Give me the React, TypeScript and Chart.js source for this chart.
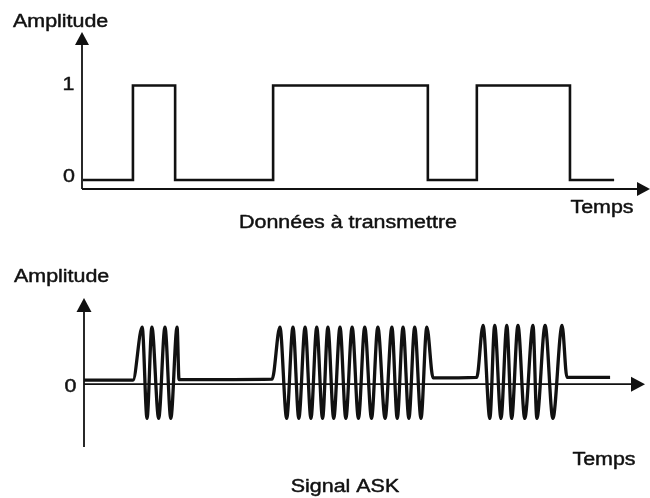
import React, { useEffect, useRef } from "react";
import { Chart, registerables } from "chart.js";

Chart.register(...registerables);

// ---- Data: top panel (digital data to transmit), time in bit periods ----
const bitEdgeTimes = [0.02, 1.05, 1.92, 3.94, 7.13, 8.14, 10.06, 10.97];
const bitLevels = [0, 1, 0, 1, 0, 1, 0, 0];
const topTickLabels = ["1", "0"];

// ---- Data: bottom panel (ASK signal), extrema ----
const askTimes = [
  0.0, 1.01, 1.2, 1.3, 1.4, 1.54, 1.67, 1.79, 1.92, 1.96,
  3.88, 4.04, 4.18, 4.31, 4.43, 4.56, 4.68, 4.8, 4.92, 5.03, 5.15, 5.28, 5.4,
  5.53, 5.66, 5.79, 5.93, 6.06, 6.21, 6.35, 6.46, 6.58, 6.7, 6.82, 6.95, 7.07, 7.2,
  8.1, 8.23, 8.37, 8.47, 8.6, 8.72, 8.82, 8.95, 9.09, 9.26, 9.34, 9.51, 9.67, 9.86, 9.96,
  10.85,
];
const askAmplitudes = [
  0.07, 0.07, 1, -0.6, 1, -0.6, 1, -0.6, 1, 0.08,
  0.09, 1, -0.6, 1, -0.6, 1, -0.6, 1, -0.6, 1, -0.6, 1, -0.6,
  1, -0.6, 1, -0.6, 1, -0.6, 1, -0.6, 1, -0.6, 1, -0.6, 1, 0.11,
  0.12, 1.03, -0.6, 1.03, -0.6, 1.03, -0.6, 1.03, -0.6, 1.03, -0.6, 1.03, -0.6, 1.03, 0.12,
  0.12,
];
const bottomTickLabels = ["0"];

const INK = "#111111";
const FONT = "18px 'Liberation Sans', Arial, Helvetica, sans-serif";
const STRETCH = 1.19;

type Txt = { text: string; x: number; y: number; align: CanvasTextAlign };

const decorPlugin = {
  id: "decor",
  beforeDatasetsDraw(chart: any, _args: any, opts: any) {
    const { ctx, chartArea } = chart;
    const ys = chart.scales.y;
    ctx.save();
    ctx.strokeStyle = INK;
    ctx.fillStyle = INK;
    ctx.lineWidth = opts.axisWidth;
    const x0 = chartArea.left;
    const xAxisY = ys.getPixelForValue(opts.xAxisAt);
    const yBottom = ys.getPixelForValue(opts.yAxisFrom);
    const yTop = chartArea.top;
    const xRight = chartArea.right;
    const al = opts.arrowLen;
    const hw = opts.arrowHalf;
    // y axis
    ctx.beginPath();
    ctx.moveTo(x0, yBottom);
    ctx.lineTo(x0, yTop + al - 1);
    ctx.stroke();
    ctx.beginPath();
    ctx.moveTo(x0, yTop);
    ctx.lineTo(x0 - hw, yTop + al);
    ctx.lineTo(x0 + hw, yTop + al);
    ctx.closePath();
    ctx.fill();
    // x axis
    ctx.beginPath();
    ctx.moveTo(x0, xAxisY);
    ctx.lineTo(xRight - al + 1, xAxisY);
    ctx.stroke();
    ctx.beginPath();
    ctx.moveTo(xRight, xAxisY);
    ctx.lineTo(xRight - al, xAxisY - hw);
    ctx.lineTo(xRight - al, xAxisY + hw);
    ctx.closePath();
    ctx.fill();
    // texts
    ctx.font = FONT;
    ctx.textBaseline = "alphabetic";
    ctx.lineWidth = 0.45;
    ctx.lineJoin = "round";
    (opts.texts as Txt[]).forEach((t) => {
      ctx.save();
      ctx.translate(t.x, t.y);
      ctx.scale(STRETCH, 1);
      ctx.textAlign = t.align;
      ctx.fillText(t.text, 0, 0);
      ctx.strokeText(t.text, 0, 0);
      ctx.restore();
    });
    ctx.restore();
  },
};

function makeTopChart(canvas: HTMLCanvasElement) {
  const data = bitEdgeTimes.map((t, i) => ({ x: t, y: bitLevels[i] }));
  return new Chart(canvas, {
    type: "line",
    data: {
      datasets: [
        {
          data,
          stepped: "before",
          borderColor: INK,
          borderWidth: 2.6,
          pointRadius: 0,
          fill: false,
        } as any,
      ],
    },
    options: {
      responsive: false,
      animation: false,
      layout: { padding: { left: 82, right: 0, top: 32, bottom: 61 } },
      scales: {
        x: { type: "linear", min: 0, max: 11.71, display: false },
        y: { type: "linear", min: -0.095, max: 1.566, display: false },
      },
      plugins: {
        legend: { display: false },
        tooltip: { enabled: false },
        decor: {
          axisWidth: 1.8,
          xAxisAt: -0.095,
          yAxisFrom: -0.095,
          arrowLen: 13,
          arrowHalf: 7,
          texts: [
            { text: "Amplitude", x: 13, y: 27, align: "left" },
            { text: topTickLabels[0], x: 68.5, y: 90, align: "center" },
            { text: topTickLabels[1], x: 69, y: 182, align: "center" },
            { text: "Données à transmettre", x: 348, y: 228, align: "center" },
            { text: "Temps", x: 602, y: 213, align: "center" },
          ],
        },
      } as any,
    },
    plugins: [decorPlugin as any],
  });
}

function makeBottomChart(canvas: HTMLCanvasElement) {
  const data = askTimes.map((t, i) => ({ x: t, y: askAmplitudes[i] }));
  return new Chart(canvas, {
    type: "line",
    data: {
      datasets: [
        {
          data,
          cubicInterpolationMode: "monotone",
          borderColor: INK,
          borderWidth: 3.3,
          pointRadius: 0,
          fill: false,
        } as any,
      ],
    },
    options: {
      responsive: false,
      animation: false,
      layout: { padding: { left: 84, right: 5, top: 48, bottom: 51 } },
      scales: {
        x: { type: "linear", min: 0, max: 11.57, display: false },
        y: { type: "linear", min: -1.1, max: 1.51, display: false },
      },
      plugins: {
        legend: { display: false },
        tooltip: { enabled: false },
        decor: {
          axisWidth: 1.8,
          xAxisAt: 0,
          yAxisFrom: -1.1,
          arrowLen: 14,
          arrowHalf: 7.5,
          texts: [
            { text: "Amplitude", x: 14, y: 32, align: "left" },
            { text: bottomTickLabels[0], x: 70.5, y: 142, align: "center" },
            { text: "Temps", x: 604, y: 215, align: "center" },
            { text: "Signal ASK", x: 345, y: 242, align: "center" },
          ],
        },
      } as any,
    },
    plugins: [decorPlugin as any],
  });
}

export default function App() {
  const topRef = useRef<HTMLCanvasElement>(null);
  const botRef = useRef<HTMLCanvasElement>(null);

  useEffect(() => {
    const a = makeTopChart(topRef.current!);
    const b = makeBottomChart(botRef.current!);
    return () => {
      a.destroy();
      b.destroy();
    };
  }, []);

  return (
    <div
      style={{
        position: "absolute",
        left: 0,
        top: 0,
        width: 650,
        height: 498,
        background: "#ffffff",
      }}
    >
      <canvas
        ref={topRef}
        width={650}
        height={250}
        style={{ position: "absolute", left: 0, top: 0, width: 650, height: 250 }}
      />
      <canvas
        ref={botRef}
        width={650}
        height={248}
        style={{ position: "absolute", left: 0, top: 250, width: 650, height: 248 }}
      />
    </div>
  );
}
